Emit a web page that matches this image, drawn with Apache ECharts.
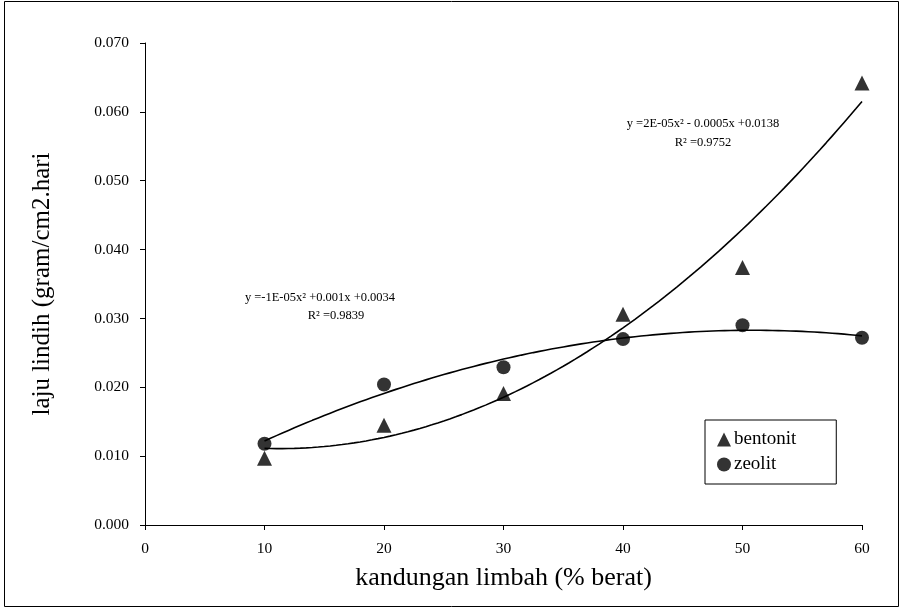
<!DOCTYPE html>
<html>
<head>
<meta charset="utf-8">
<script src="https://cdn.jsdelivr.net/npm/echarts@6/dist/echarts.min.js"></script>
<style>
html,body{margin:0;padding:0;background:#fff;}
#chart{width:902px;height:610px;}
</style>
</head>
<body>
<div id="chart"></div>
<script>
// ---- data ----
const xValues = [10, 20, 30, 40, 50, 60];
const bentonit = [0.0097, 0.0145, 0.0191, 0.0306, 0.0374, 0.0642];
const zeolit   = [0.0118, 0.0204, 0.0229, 0.0270, 0.0290, 0.0272];
const seriesNames = ['bentonit', 'zeolit'];
const eqBentonit = ['y =2E-05x\u00B2 - 0.0005x +0.0138', 'R\u00B2 =0.9752'];
const eqZeolit   = ['y =-1E-05x\u00B2 +0.001x +0.0034', 'R\u00B2 =0.9839'];
const xTitle = 'kandungan limbah (% berat)';
const yTitle = 'laju lindih (gram/cm2.hari';

// ---- 2nd order polynomial trendline (least squares, as in the source) ----
function polyfit2(xs, ys) {
  let n = xs.length, sx=0, sx2=0, sx3=0, sx4=0, sy=0, sxy=0, sx2y=0;
  for (let i = 0; i < n; i++) {
    const x = xs[i], y = ys[i];
    sx += x; sx2 += x*x; sx3 += x*x*x; sx4 += x*x*x*x;
    sy += y; sxy += x*y; sx2y += x*x*y;
  }
  const M = [[n, sx, sx2, sy], [sx, sx2, sx3, sxy], [sx2, sx3, sx4, sx2y]];
  for (let i = 0; i < 3; i++) {
    for (let k = i + 1; k < 3; k++) {
      const f = M[k][i] / M[i][i];
      for (let j = i; j < 4; j++) M[k][j] -= f * M[i][j];
    }
  }
  const r = [0, 0, 0];
  for (let i = 2; i >= 0; i--) {
    let s = M[i][3];
    for (let j = i + 1; j < 3; j++) s -= M[i][j] * r[j];
    r[i] = s / M[i][i];
  }
  return r; // a + b x + c x^2
}
function trend(xs, ys) {
  const [a, b, c] = polyfit2(xs, ys);
  const pts = [];
  const x0 = xs[0], x1 = xs[xs.length - 1];
  for (let k = 0; k <= 100; k++) {
    const x = x0 + (x1 - x0) * k / 100;
    pts.push([x, a + b * x + c * x * x]);
  }
  return pts;
}

const font = 'Liberation Serif, Times New Roman, serif';
const chart = echarts.init(document.getElementById('chart'));

chart.setOption({
  backgroundColor: '#fff',
  animation: false,
  grid: { left: 145, right: 40, top: 43, bottom: 85 },
  xAxis: {
    type: 'value', min: 0, max: 60, interval: 10,
    name: xTitle, nameLocation: 'middle', nameGap: 40,
    nameTextStyle: { fontFamily: font, fontSize: 26, color: '#000' },
    axisLine: { show: true, onZero: false, lineStyle: { color: '#000', width: 1 } },
    axisTick: { show: true, length: 5, lineStyle: { color: '#000' } },
    axisLabel: { fontFamily: font, fontSize: 15.5, color: '#000', margin: 16 },
    splitLine: { show: false }
  },
  yAxis: {
    type: 'value', min: 0, max: 0.07, interval: 0.01,
    name: yTitle, nameLocation: 'middle', nameGap: 90,
    nameTextStyle: { fontFamily: font, fontSize: 25, color: '#000' },
    axisLine: { show: true, lineStyle: { color: '#000', width: 1 } },
    axisTick: { show: true, length: 5, lineStyle: { color: '#000' } },
    axisLabel: { fontFamily: font, fontSize: 15.5, color: '#000', margin: 16,
      formatter: v => v.toFixed(3) },
    splitLine: { show: false }
  },
  legend: {
    data: seriesNames.map(n => ({ name: n })),
    orient: 'vertical', left: 705, top: 420,
    padding: [10, 40, 10, 12], itemGap: 6, itemWidth: 14, itemHeight: 14,
    borderColor: '#000', borderWidth: 1, backgroundColor: '#fff',
    textStyle: { fontFamily: font, fontSize: 19, color: '#000', padding: [0, 0, 0, -2] }
  },
  series: [
    { name: 'trend-b', type: 'line', data: trend(xValues, bentonit), showSymbol: false,
      symbol: 'none', lineStyle: { color: '#000', width: 1.6 }, silent: true, z: 1 },
    { name: 'trend-z', type: 'line', data: trend(xValues, zeolit), showSymbol: false,
      symbol: 'none', lineStyle: { color: '#000', width: 1.6 }, silent: true, z: 1 },
    { name: seriesNames[0], type: 'scatter', symbol: 'triangle', symbolSize: 15,
      itemStyle: { color: '#000' }, z: 3,
      data: xValues.map((x, i) => [x, bentonit[i]]) },
    { name: seriesNames[1], type: 'scatter', symbol: 'circle', symbolSize: 14,
      itemStyle: { color: '#000' }, z: 3,
      data: xValues.map((x, i) => [x, zeolit[i]]) }
  ],
  graphic: [
    { type: 'rect', shape: { x: 4.5, y: 1.5, width: 894, height: 605 },
      style: { fill: 'none', stroke: '#000', lineWidth: 1 }, silent: true },
    { type: 'text', x: 703, y: 124, style: { text: eqBentonit[0], fontFamily: font, fontSize: 12.5,
      fill: '#000', textAlign: 'center', textVerticalAlign: 'middle' } },
    { type: 'text', x: 703, y: 143, style: { text: eqBentonit[1], fontFamily: font, fontSize: 12.5,
      fill: '#000', textAlign: 'center', textVerticalAlign: 'middle' } },
    { type: 'text', x: 320, y: 298, style: { text: eqZeolit[0], fontFamily: font, fontSize: 12.5,
      fill: '#000', textAlign: 'center', textVerticalAlign: 'middle' } },
    { type: 'text', x: 336, y: 316, style: { text: eqZeolit[1], fontFamily: font, fontSize: 12.5,
      fill: '#000', textAlign: 'center', textVerticalAlign: 'middle' } }
  ]
});
</script>
</body>
</html>
